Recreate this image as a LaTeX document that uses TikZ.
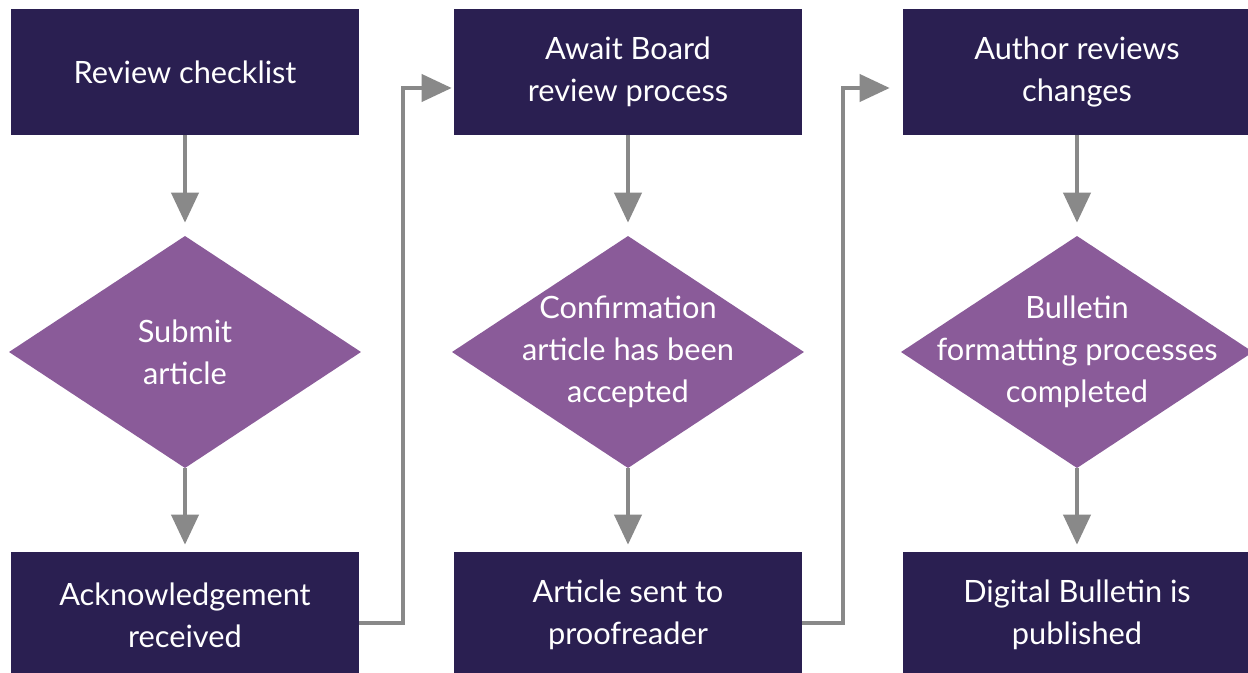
\documentclass[tikz,border=0pt]{standalone}
\usepackage{fontspec}
\setmainfont{Lato}
\usetikzlibrary{arrows.meta, positioning, calc}
\definecolor{boxnavy}{HTML}{2A1F51}
\definecolor{diapurple}{HTML}{8A5B99}
\definecolor{flowgray}{HTML}{898989}

\begin{document}
\begin{tikzpicture}[x=0.02cm, y=-0.02cm, font=\fontsize{17.5}{24}\selectfont,
  box/.style = {fill=boxnavy, text=white, minimum width=6.96cm, minimum height=2.52cm, align=center, inner sep=0pt},
  decision/.style = {text=white, minimum width=7.04cm, minimum height=4.64cm, align=center, inner sep=0pt,
    path picture={
      \fill[diapurple] (path picture bounding box.north) -- (path picture bounding box.east) -- (path picture bounding box.south) -- (path picture bounding box.west) -- cycle;
    }},
  arrow/.style = {-{Triangle[length=6mm, width=5.4mm]}, line width=2.3pt, draw=flowgray, shorten >=2mm}
]
\useasboundingbox (0,0) rectangle (1248,673);
\node[box] (review) at (185,72) {Review checklist};
\node[decision] (submit) at (185,352) {Submit\\article};
\node[box] (ack) at (185,615) {Acknowledgement\\received};
\node[box] (await) at (628,72) {Await Board\\review process};
\node[decision] (confirm) at (628,352) {Confirmation\\article has been\\accepted};
\node[box] (sent) at (628,615) {Article sent to\\proofreader};
\node[box] (author) at (1077,72) {Author reviews\\changes};
\node[decision] (format) at (1077,352) {Bulletin\\formatting processes\\completed};
\node[box] (publish) at (1077,615) {Digital Bulletin is\\published};
\draw[arrow, shorten >=2.6mm] (review) -- (submit);
\draw[arrow, shorten >=1.4mm] (submit) -- (ack);
\draw[arrow, shorten >=2.6mm] (await) -- (confirm);
\draw[arrow, shorten >=1.4mm] (confirm) -- (sent);
\draw[arrow, shorten >=2.6mm] (author) -- (format);
\draw[arrow, shorten >=1.4mm] (format) -- (publish);
\draw[arrow, shorten >=0.4mm] ([yshift=-1.6mm]ack.east) -- ++(44,0) |- ([yshift=-3.2mm]await.west);
\draw[arrow, shorten >=2.6mm] ([yshift=-1.6mm]sent.east) -- ++(41,0) |- ([yshift=-3.2mm]author.west);
\end{tikzpicture}
\end{document}
